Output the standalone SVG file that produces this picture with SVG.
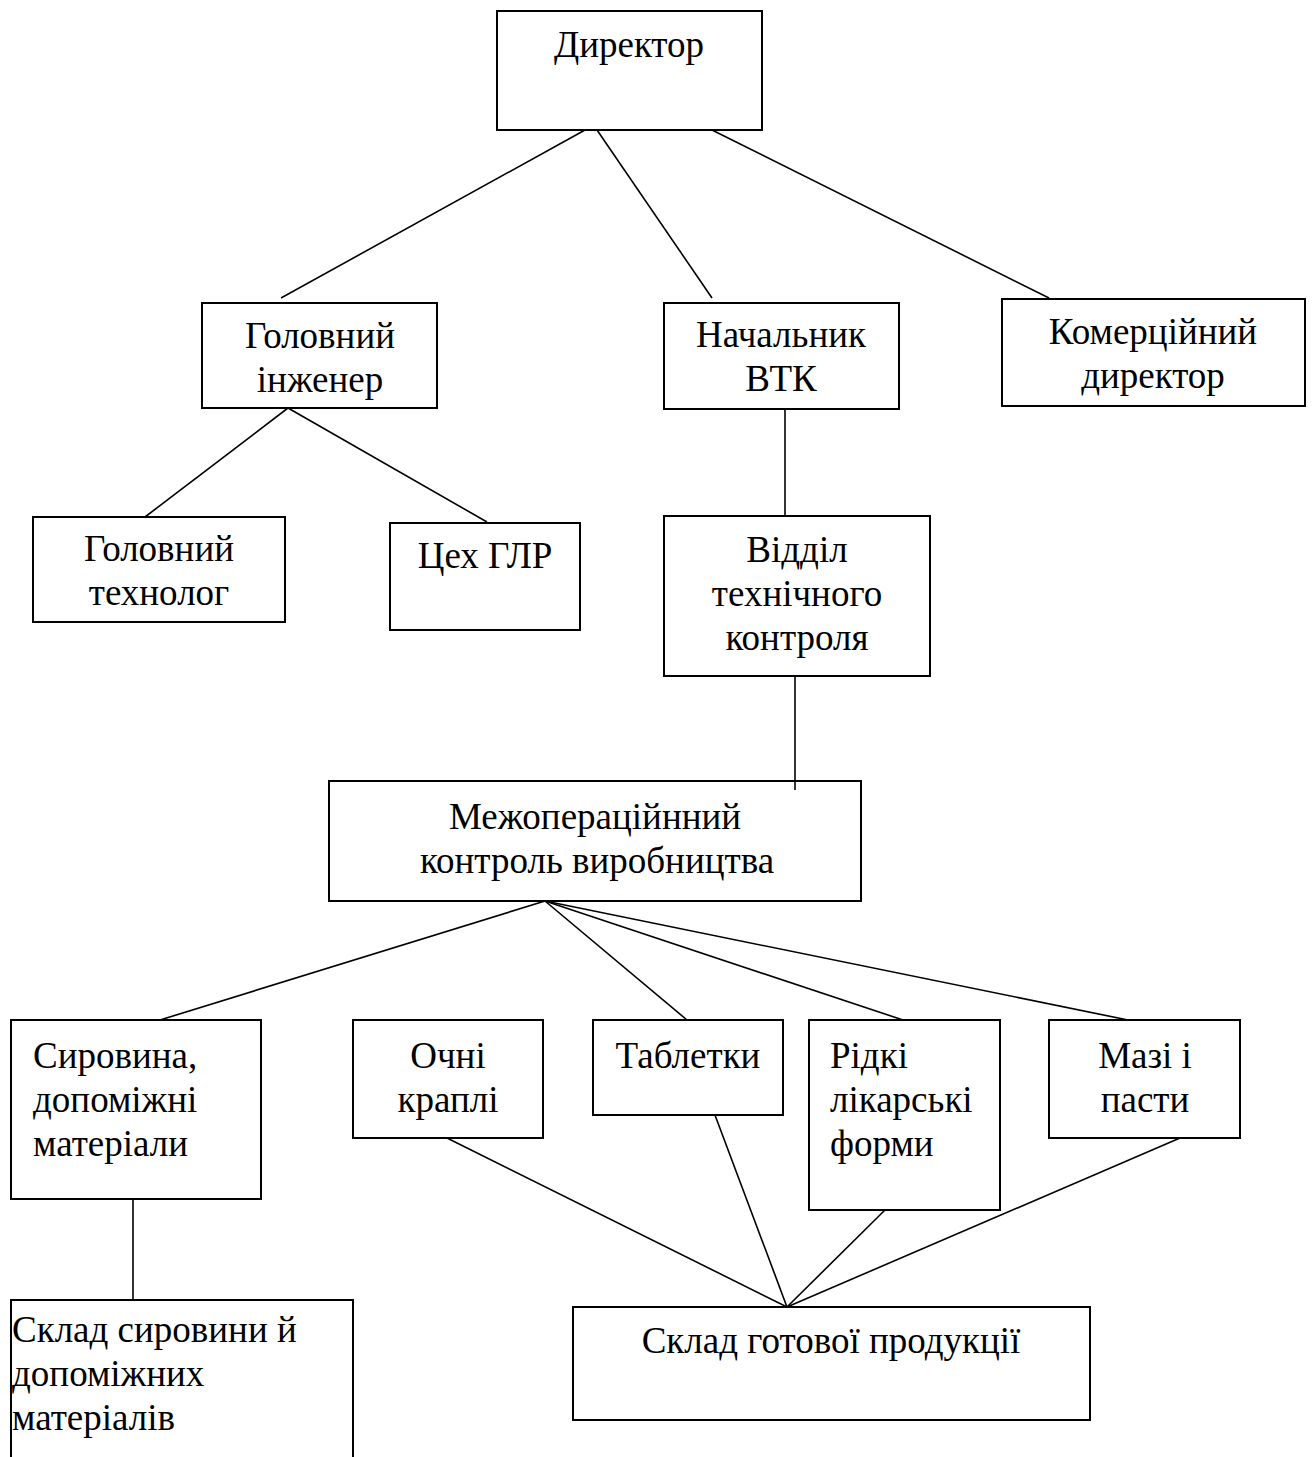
<svg xmlns="http://www.w3.org/2000/svg" width="1315" height="1457" viewBox="0 0 1315 1457">
<style>
.box{fill:#fff;stroke:#000;stroke-width:2}
.ln{stroke:#000;stroke-width:1.6;fill:none}
text{font-family:"Liberation Serif","Times New Roman",serif;font-size:37px;fill:#000}
.c{text-anchor:middle}
</style>
<rect width="1315" height="1457" fill="#fff"/>
<g id="director"><rect class="box" x="497" y="11" width="265" height="119"/><text class="c" x="629" y="57">Директор</text></g>
<g id="chief-engineer"><rect class="box" x="202" y="303" width="235" height="105"/><text class="c" x="320" y="348">Головний</text><text class="c" x="320" y="392">інженер</text></g>
<g id="head-vtk"><rect class="box" x="664" y="303" width="235" height="106"/><text class="c" x="781" y="347">Начальник</text><text class="c" x="781" y="391">ВТК</text></g>
<g id="commercial-director"><rect class="box" x="1002" y="299" width="303" height="107"/><text class="c" x="1153" y="344">Комерційний</text><text class="c" x="1153" y="388">директор</text></g>
<g id="chief-technologist"><rect class="box" x="33" y="517" width="252" height="105"/><text class="c" x="159" y="561">Головний</text><text class="c" x="159" y="605">технолог</text></g>
<g id="shop-glr"><rect class="box" x="390" y="523" width="190" height="107"/><text class="c" x="485" y="568">Цех ГЛР</text></g>
<g id="tech-control-dept"><rect class="box" x="664" y="516" width="266" height="160"/><text class="c" x="797" y="562">Відділ</text><text class="c" x="797" y="606">технічного</text><text class="c" x="797" y="650">контроля</text></g>
<g id="interop-control"><rect class="box" x="329" y="781" width="532" height="120"/><text class="c" x="595" y="829">Межопераційнний</text><text class="c" x="597" y="873">контроль виробництва</text></g>
<g id="raw-materials"><rect class="box" x="11" y="1020" width="250" height="179"/><text x="33" y="1068">Сировина,</text><text x="33" y="1112">допоміжні</text><text x="33" y="1156">матеріали</text></g>
<g id="eye-drops"><rect class="box" x="353" y="1020" width="190" height="118"/><text class="c" x="448" y="1068">Очні</text><text class="c" x="448" y="1112">краплі</text></g>
<g id="tablets"><rect class="box" x="593" y="1020" width="190" height="95"/><text class="c" x="688" y="1068">Таблетки</text></g>
<g id="liquid-forms"><rect class="box" x="809" y="1020" width="191" height="190"/><text x="830" y="1068">Рідкі</text><text x="830" y="1112">лікарські</text><text x="830" y="1156">форми</text></g>
<g id="ointments"><rect class="box" x="1049" y="1020" width="191" height="118"/><text class="c" x="1145" y="1068">Мазі і</text><text class="c" x="1145" y="1112">пасти</text></g>
<g id="raw-warehouse"><rect class="box" x="11" y="1300" width="342" height="200"/><text x="12" y="1342">Склад сировини й</text><text x="12" y="1386">допоміжних</text><text x="12" y="1430">матеріалів</text></g>
<g id="finished-warehouse"><rect class="box" x="573" y="1307" width="517" height="113"/><text class="c" x="831" y="1353">Склад готової продукції</text></g>
<g id="connectors">
<line class="ln" x1="585" y1="130" x2="281" y2="298"/>
<line class="ln" x1="597" y1="130" x2="712" y2="298"/>
<line class="ln" x1="712" y1="130" x2="1049" y2="298"/>
<line class="ln" x1="288" y1="408" x2="145" y2="517"/>
<line class="ln" x1="288" y1="408" x2="487" y2="522"/>
<line class="ln" x1="785" y1="409" x2="785" y2="516"/>
<line class="ln" x1="795" y1="676" x2="795" y2="790"/>
<line class="ln" x1="545" y1="901" x2="160" y2="1020"/>
<line class="ln" x1="545" y1="901" x2="687" y2="1020"/>
<line class="ln" x1="545" y1="901" x2="903" y2="1020"/>
<line class="ln" x1="545" y1="901" x2="1128" y2="1020"/>
<line class="ln" x1="133" y1="1199" x2="133" y2="1300"/>
<line class="ln" x1="447" y1="1138" x2="787" y2="1307"/>
<line class="ln" x1="715" y1="1115" x2="787" y2="1307"/>
<line class="ln" x1="885" y1="1210" x2="787" y2="1307"/>
<line class="ln" x1="1180" y1="1138" x2="787" y2="1307"/>
</g>
</svg>
